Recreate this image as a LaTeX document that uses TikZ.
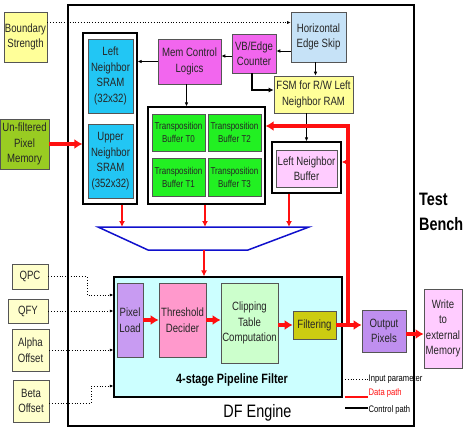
\documentclass[tikz,border=0pt]{standalone}
\usepackage{fontspec}
\setmainfont{Liberation Sans}[FakeStretch=0.8]
\usetikzlibrary{arrows.meta}
\definecolor{edgegray}{HTML}{555555}
\definecolor{paleyellow}{HTML}{FFFFCC}
\definecolor{lemon}{HTML}{FFFF99}
\definecolor{skipblue}{HTML}{C6E2F7}
\definecolor{magentabox}{HTML}{F266EE}
\definecolor{sramcyan}{HTML}{22C6F4}
\definecolor{buffgreen}{HTML}{22F022}
\definecolor{olive}{HTML}{99CC22}
\definecolor{pinkbox}{HTML}{FFCCFF}
\definecolor{pipecyan}{HTML}{CCFFFF}
\definecolor{lilac}{HTML}{C89BF2}
\definecolor{rosebox}{HTML}{FF99CC}
\definecolor{mintbox}{HTML}{CCFFCC}
\definecolor{filtyellow}{HTML}{CCCC11}
\definecolor{outpurple}{HTML}{BF8FEF}
\definecolor{datared}{HTML}{FF1010}
\definecolor{muxblue}{HTML}{1010CC}
\tikzset{
  box/.style={
    draw=edgegray,
    line width=0.6pt,
    align=center,
    inner sep=0pt,
    text=black!85,
    font=\fontsize{12}{15.5}\selectfont
  },
  smallbox/.style={
    box,
    font=\fontsize{10}{13}\selectfont
  },
  group/.style={
    draw=black,
    line width=1.3pt,
    fill=white,
    inner sep=0pt
  },
  engine/.style={
    draw=black,
    line width=1.6pt,
    inner sep=0pt
  },
  legend label/.style={font=\fontsize{9.5}{11}\selectfont, anchor=west, inner sep=0.5pt},
  ctrl/.style={-{Latex[length=4pt,width=3.6pt]}, line width=0.8pt},
  ctrlbold/.style={-{Latex[length=5pt,width=5pt]}, line width=1.8pt},
  param/.style={-{Latex[length=3.5pt,width=3pt]}, dotted, line width=0.8pt},
  datathin/.style={-{Latex[length=6pt,width=6pt]}, draw=datared, line width=1.6pt},
  datathick/.style={-{Latex[length=8pt,width=10pt]}, draw=datared, line width=3.5pt}
}
\begin{document}
\begin{tikzpicture}[x=1pt,y=-1pt]
  \useasboundingbox (0,0) rectangle (473,434);

  % DF engine frame
  \node[engine, minimum width=346pt, minimum height=421pt] (engine) at (241,215.5) {};
  \node[font=\fontsize{18}{22}\selectfont, inner sep=0pt] (dflabel) at (257.5,413) {DF Engine};
  \node[font=\bfseries\fontsize{18}{25}\selectfont, align=left, anchor=west, inner sep=0pt]
    (testbench) at (419,212) {Test\\Bench};

  % Outside inputs
  \node[box, fill=lemon, minimum width=43pt, minimum height=50pt] (bs) at (25.5,37) {Boundary\\Strength};
  \node[box, fill=olive, minimum width=49pt, minimum height=50pt] (upm) at (24.5,144) {Un-filtered\\Pixel\\Memory};
  \node[box, fill=paleyellow, minimum width=36pt, minimum height=25pt] (qpc) at (30,276.5) {QPC};
  \node[box, fill=paleyellow, minimum width=40pt, minimum height=24pt] (qfy) at (28,311) {QFY};
  \node[box, fill=paleyellow, minimum width=37pt, minimum height=42pt] (alpha) at (30.5,350) {Alpha\\Offset};
  \node[box, fill=paleyellow, minimum width=36pt, minimum height=42pt] (beta) at (31,401) {Beta\\Offset};

  % Control logic
  \node[box, fill=skipblue, minimum width=55pt, minimum height=50pt] (hes) at (318.5,37) {Horizontal\\Edge Skip};
  \node[box, fill=magentabox, minimum width=44pt, minimum height=39pt] (vbc) at (254,53.5) {VB/Edge\\Counter};
  \node[box, fill=magentabox, minimum width=63pt, minimum height=45pt] (mcl) at (189.5,61.5) {Mem Control\\Logics};
  \node[box, fill=lemon, minimum width=79pt, minimum height=37pt] (fsm) at (313.5,94.5) {FSM for R/W Left\\Neighbor RAM};

  % Neighbor SRAMs
  \node[group, minimum width=54pt, minimum height=171pt] (sramgrp) at (110,118.5) {};
  \node[box, fill=sramcyan, minimum width=45pt, minimum height=74pt] (lsram) at (110.5,76) {Left\\Neighbor\\SRAM\\(32x32)};
  \node[box, fill=sramcyan, minimum width=45pt, minimum height=74pt] (usram) at (110.5,161) {Upper\\Neighbor\\SRAM\\(352x32)};

  % Transposition buffers
  \node[group, minimum width=117pt, minimum height=97pt] (tgrp) at (206.5,155.5) {};
  \node[smallbox, fill=buffgreen, minimum width=53pt, minimum height=37pt] (t0) at (178.5,132.5) {Transposition\\Buffer T0};
  \node[smallbox, fill=buffgreen, minimum width=53pt, minimum height=37pt] (t2) at (234.5,132.5) {Transposition\\Buffer T2};
  \node[smallbox, fill=buffgreen, minimum width=53pt, minimum height=38pt] (t1) at (178.5,177) {Transposition\\Buffer T1};
  \node[smallbox, fill=buffgreen, minimum width=53pt, minimum height=38pt] (t3) at (234.5,177) {Transposition\\Buffer T3};

  % Left neighbor buffer
  \node[group, minimum width=69pt, minimum height=51pt] (lnbout) at (306.5,167.5) {};
  \node[box, fill=pinkbox, minimum width=61pt, minimum height=37pt] (lnb) at (306.5,168.5) {Left Neighbor\\Buffer};

  % Selector
  \coordinate (muxtl) at (98,227);
  \coordinate (muxtr) at (309,227);
  \coordinate (muxbr) at (248,250);
  \coordinate (muxbl) at (148,250);
  \coordinate (muxout) at (204,250);
  \draw[muxblue, line width=1.5pt, line join=miter] (muxtl) -- (muxtr) -- (muxbr) -- (muxbl) -- cycle;

  % Pipeline filter
  \node[box, fill=pipecyan, draw=black, line width=1.2pt, minimum width=228pt, minimum height=120pt] (pipe) at (228,337) {};
  \node[font=\bfseries\fontsize{13.5}{16}\selectfont, inner sep=0pt] (pipelabel) at (232,380) {4-stage Pipeline Filter};
  \node[box, fill=lilac, minimum width=26pt, minimum height=74pt] (pl) at (130,320) {Pixel\\Load};
  \node[box, fill=rosebox, minimum width=47pt, minimum height=74pt] (td) at (182.5,320) {Threshold\\Decider};
  \node[box, fill=mintbox, minimum width=57pt, minimum height=80pt] (ctc) at (249.5,323) {Clipping\\Table\\Computation};
  \node[box, fill=filtyellow, minimum width=43pt, minimum height=28pt] (filt) at (314.5,325) {Filtering};

  % Output side
  \node[box, fill=outpurple, minimum width=44pt, minimum height=42pt] (op) at (384,331) {Output\\Pixels};
  \node[box, fill=pinkbox, minimum width=38pt, minimum height=79pt] (wem) at (443,328.5) {Write\\to\\external\\Memory};

  % Control paths
  \draw[ctrl] ([yshift=-14pt]hes.west) -- ([yshift=-14pt]hes.west -| vbc.east);
  \draw[ctrl] ([yshift=-2.5pt]vbc.west) -- ([yshift=-2.5pt]vbc.west -| mcl.east);
  \draw[ctrl] (mcl.west) -- (mcl.west -| sramgrp.east);
  \draw[ctrl] ([xshift=-3pt]mcl.south) -- ([xshift=-3pt]mcl.south |- tgrp.north);
  \draw[ctrl] ([xshift=-3pt]hes.south) -- ([xshift=-3pt]hes.south |- fsm.north);
  \draw[ctrlbold] ([xshift=-2pt]vbc.south) |- ([yshift=4.5pt]fsm.west);
  \draw[ctrl] (fsm.south -| lnbout.north) -- (lnbout.north);

  % Input parameters
  \draw[param] ([yshift=14.5pt]bs.east) -- ([yshift=14.5pt]bs.east -| hes.west);
  \coordinate (qpcbend) at (87,295);
  \coordinate (betabend) at (91,386);
  \draw[param] (qpc.east) -| (qpcbend) -- (qpcbend -| pipe.west);
  \draw[param] (qfy.east) -- (qfy.east -| pipe.west);
  \draw[param] (alpha.east) -- (alpha.east -| pipe.west);
  \draw[param] ([yshift=-2pt]beta.east) -| (betabend) -- (betabend -| pipe.west);

  % Data paths
  \draw[datathick] (upm.east) -- (upm.east -| sramgrp.west);
  \draw[datathin] ([xshift=12pt]sramgrp.south) -- ([xshift=12pt]sramgrp.south |- muxtl);
  \draw[datathin] ([xshift=-1.5pt]tgrp.south) -- ([xshift=-1.5pt]tgrp.south |- muxtl);
  \draw[datathin] ([xshift=-17.5pt]lnbout.south) -- ([xshift=-17.5pt]lnbout.south |- muxtl);
  \draw[datathin] (muxout) -- (muxout |- pipe.north);
  \draw[datathick] (pl.east) -- (td.west);
  \draw[datathick] (td.east |- pl.east) -- (ctc.west |- pl.east);
  \draw[datathick] (ctc.east |- filt.west) -- (filt.west);
  \draw[datathick] (filt.east) -- (filt.east -| op.west);
  \draw[datathick] ([yshift=-3pt]op.east) -- ([yshift=-3pt]op.east -| wem.west);

  % Feedback from filter output
  \coordinate (fbx) at (348,126);
  \draw[datathick, line join=miter] (fbx |- filt.east) -- (fbx) -- (fbx -| tgrp.east);
  \draw[datathin, -{Latex[length=5pt,width=5pt]}] (fbx |- lnbout.east) ++(0,-5.5) -- ([yshift=5.5pt]lnbout.east);

  % Legend
  \node[legend label] (legparam) at (368,379) {Input parameter};
  \node[legend label, text=datared] (legdata) at (368,393) {Data path};
  \node[legend label] (legctrl) at (368,410) {Control path};
  \draw[dotted, line width=0.8pt] (345,379) -- (legparam.west);
  \draw[datared, line width=2pt] (345,397) -- (legdata.west |- 0,397);
  \draw[line width=2pt] (345,408) -- (legctrl.west |- 0,408);
\end{tikzpicture}
\end{document}
